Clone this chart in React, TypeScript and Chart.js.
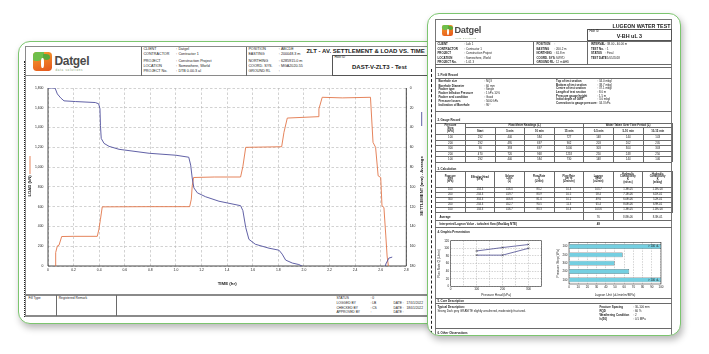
import React, { useEffect, useRef } from "react";
import { Chart, registerables } from "chart.js";
Chart.register(...registerables);

const FONT = "'Liberation Sans', Arial, Helvetica, sans-serif";
const BLUE = "#4f4f9c";
const ORANGE = "#e2764a";
const GREEN = "#7cc56f";

// ---------- ZLT chart data ----------
const settleTimeHr = [0, 0.055, 0.073, 0.099, 0.125, 0.216, 0.37, 0.396, 0.406, 0.41, 0.416, 0.438, 0.477, 0.555, 0.79, 1.0, 1.1, 1.115, 1.127, 1.14, 1.167, 1.232, 1.336, 1.505, 1.523, 1.545, 1.57, 1.62, 1.727, 1.805, 1.83, 1.857, 1.909, 1.96, 2.0, 2.2, 2.5, 2.62, 2.64, 2.664, 2.69];
const settleMm = [0, 0, 6, 10, 13, 13.7, 14.7, 16, 21, 38, 51, 56, 59, 62, 66, 68, 70, 78, 91, 101, 106, 110, 114.5, 119, 124, 141, 153, 158, 162, 164, 168, 174, 177, 178.5, 181, 186, 190, 190, 178, 172, 171];
const loadTimeHr = [0.055, 0.06, 0.073, 0.086, 0.107, 0.2, 0.385, 0.398, 0.41, 0.424, 0.8, 1.107, 1.12, 1.127, 1.138, 1.3, 1.505, 1.523, 1.545, 1.826, 1.844, 1.87, 2.11, 2.117, 2.143, 2.3, 2.52, 2.54, 2.56, 2.58, 2.6, 2.61, 2.625, 2.64, 2.65, 2.66];
const loadKn = [0, 136, 203, 210, 298, 300, 300, 372, 473, 598, 600, 600, 676, 810, 895, 900, 900, 1007, 1200, 1206, 1352, 1496, 1510, 1588, 1706, 1700, 1706, 1250, 1200, 912, 895, 608, 592, 304, 101, 0];

// ---------- Lugeon data ----------
const headLoading = [100, 200, 300];
const flowLoading = [82, 82, 100];
const headUnloading = [300, 200, 100];
const flowUnloading = [110, 102, 93];
const barStepLabels = ["100", "200", "300", "200", "100"];
const lugeonBarValues = [100, 58.4, 49.6, 65.4, 100];

const gaugeSteps = ["100", "200", "300", "200", "100"];
const gaugeStart = ["292", "292", "90", "470", "292"];
const gauge5 = ["440", "495", "393", "720", "440"];
const gauge10 = ["584", "697", "697", "968", "584"];
const gauge15 = ["727", "902", "1000", "1218", "730"];
const gaugeW5 = ["148", "203", "303", "250", "148"];
const gaugeW10 = ["144", "202", "304", "248", "144"];
const gaugeW15 = ["143", "205", "303", "250", "146"];

const calcHead = ["134.3", "234.3", "334.3", "234.3", "134.3"];
const calcVolume = ["416.0", "419.7", "406.8", "452.7", "416.7"];
const calcFlow = ["83.2", "83.9", "81.4", "90.5", "83.3"];
const calcFlowPerM = ["10.4", "10.5", "10.2", "11.3", "10.4"];
const calcLugeon = ["103.7", "58.4", "49.6", "65.4", "103.6"];
const calcKsec = ["1.3E-05", "7.1E-06", "6.0E-06", "8.0E-06", "1.3E-05"];
const calcKday = ["1.1E+00", "6.1E-01", "5.2E-01", "6.9E-01", "1.1E+00"];

// ---------- helpers ----------
const T = ({ x, y, s = 3.6, b = false, a = "l", c = "#1a1a1a", ls, lh = 1, children }: any) => (
  <div style={{ position: "absolute", left: x, top: y, fontSize: s, fontWeight: b ? 700 : 400, color: c, lineHeight: lh, whiteSpace: "pre", fontFamily: FONT, letterSpacing: ls, textAlign: a === "c" ? "center" : a === "r" ? "right" : "left", transform: `translate(${a === "l" ? "0" : a === "c" ? "-50%" : "-100%"}, -50%)` }}>{children}</div>
);
const H = ({ x1, x2, y, w = 0.7, c = "#6a6a6a" }: any) => (
  <div style={{ position: "absolute", left: x1, top: y - w / 2, width: x2 - x1, height: w, background: c }} />
);
const V = ({ x, y1, y2, w = 0.7, c = "#6a6a6a" }: any) => (
  <div style={{ position: "absolute", left: x - w / 2, top: y1, width: w, height: y2 - y1, background: c }} />
);

function Card({ x, y, w, h, children }: any) {
  const bw = 1.6;
  return (
    <div style={{ position: "absolute", left: x, top: y, width: w, height: h, boxSizing: "border-box", border: `${bw}px solid ${GREEN}`, borderRadius: 12, background: "#fff", boxShadow: "2px 4px 7px rgba(0,0,0,0.28)", overflow: "hidden" }}>
      <div style={{ position: "absolute", left: -x - bw, top: -y - bw, width: 709, height: 354 }}>{children}</div>
    </div>
  );
}

function Logo({ x, y, s, tx, ty, fs, sub }: any) {
  return (
    <>
      <div style={{ position: "absolute", left: x, top: y, width: s, height: s, borderRadius: s * 0.2, background: "linear-gradient(160deg,#f6a02c,#e5561d)", overflow: "hidden" }}>
        <div style={{ position: "absolute", left: -s * 0.05, top: -s * 0.1, width: s * 0.62, height: s * 0.55, background: "#6fbf4b", borderRadius: "0 0 55% 35%" }} />
        <div style={{ position: "absolute", left: s * 0.5, top: s * 0.08, width: s * 0.42, height: s * 0.32, background: "#5aa83b", borderRadius: "10% 60% 50% 50%" }} />
        <div style={{ position: "absolute", left: s * 0.4, top: s * 0.3, width: s * 0.16, height: s * 0.55, background: "#fff", borderRadius: "40%" }} />
      </div>
      <T x={tx} y={ty} s={fs} b c="#4a4a4a" ls={-fs * 0.025}>Datgel</T>
      <T x={tx + 1} y={ty + fs * 0.72} s={fs * 0.24} c="#7a9a6a" ls={fs * 0.06}>{sub}</T>
    </>
  );
}

function ChartBox({ x, y, w, h, make }: any) {
  const ref = useRef<HTMLCanvasElement>(null);
  useEffect(() => {
    const chart = new Chart(ref.current as HTMLCanvasElement, make());
    return () => chart.destroy();
  }, []);
  return <canvas ref={ref} width={w} height={h} style={{ position: "absolute", left: x, top: y, width: w, height: h }} />;
}

// ---------- plugins ----------
const frameOnly = {
  id: "frameOnly",
  beforeDatasetsDraw(chart: any) {
    const { ctx, chartArea: a } = chart;
    ctx.save();
    ctx.setLineDash([]);
    ctx.strokeStyle = "#333";
    ctx.lineWidth = 0.6;
    ctx.strokeRect(a.left, a.top, a.right - a.left, a.bottom - a.top);
    ctx.restore();
  },
};

function vTitle(ctx: any, cx: number, cy: number, text: string, font: string) {
  ctx.save();
  ctx.translate(cx, cy);
  ctx.rotate(-Math.PI / 2);
  ctx.font = font;
  ctx.fillStyle = "#222";
  ctx.textAlign = "center";
  ctx.textBaseline = "middle";
  ctx.fillText(text, 0, 0);
  ctx.restore();
}

const zltDecor = {
  id: "zltDecor",
  beforeDatasetsDraw(chart: any) {
    const { ctx, chartArea: a } = chart;
    ctx.save();
    ctx.setLineDash([]);
    ctx.strokeStyle = "#333";
    ctx.lineWidth = 0.9;
    ctx.beginPath();
    ctx.moveTo(a.left, a.top);
    ctx.lineTo(a.left, a.bottom);
    ctx.lineTo(a.right, a.bottom);
    ctx.lineTo(a.right, a.top);
    ctx.stroke();
    const font = `bold 4.2px ${FONT}`;
    vTitle(ctx, 5, 109, "LOAD (kN)", font);
    ctx.strokeStyle = ORANGE;
    ctx.lineWidth = 0.9;
    ctx.beginPath();
    ctx.moveTo(5, 79);
    ctx.lineTo(5, 97);
    ctx.stroke();
    vTitle(ctx, 396.7, 109, "SETTLEMENT (mm) - Average", font);
    ctx.strokeStyle = BLUE;
    ctx.beginPath();
    ctx.moveTo(396.7, 35);
    ctx.lineTo(396.7, 49);
    ctx.stroke();
    ctx.restore();
  },
};

const barLabels = {
  id: "barLabels",
  afterDatasetsDraw(chart: any) {
    const { ctx } = chart;
    const meta = chart.getDatasetMeta(0);
    ctx.save();
    ctx.font = `2.8px ${FONT}`;
    ctx.fillStyle = "#222";
    ctx.textAlign = "right";
    ctx.textBaseline = "middle";
    meta.data.forEach((el: any, i: number) => {
      if (lugeonBarValues[i] >= 100) ctx.fillText("> 100 uL", el.x - 2, el.y);
    });
    ctx.restore();
  },
};

// ---------- configs ----------
function mainConfig(): any {
  const tickFont = { family: FONT, size: 3.4 };
  const grid = { color: "#b3b3b3", lineWidth: 0.6, drawTicks: false };
  return {
    type: "line",
    data: {
      datasets: [
        { data: settleTimeHr.map((t, i) => ({ x: t, y: settleMm[i] })), yAxisID: "ySettle", borderColor: BLUE, borderWidth: 0.9, pointRadius: 0, fill: false },
        { data: loadTimeHr.map((t, i) => ({ x: t, y: loadKn[i] })), yAxisID: "yLoad", borderColor: ORANGE, borderWidth: 0.9, pointRadius: 0, fill: false },
      ],
    },
    options: {
      animation: false, responsive: false, maintainAspectRatio: false, events: [],
      layout: { padding: { top: 11, left: 0, right: 0, bottom: 0 } },
      plugins: { legend: { display: false }, tooltip: { enabled: false } },
      scales: {
        x: {
          type: "linear", min: 0, max: 2.8,
          ticks: { stepSize: 0.2, font: tickFont, color: "#222", padding: 2.5, maxRotation: 0, autoSkip: false, callback: (v: any) => (v === 0 ? "0" : Number(v).toFixed(1)) },
          grid, border: { display: false, dash: [2.5, 2] },
          title: { display: true, text: "TIME (hr)", font: { family: FONT, size: 4.4, weight: "bold" }, color: "#222", padding: { top: 0, bottom: 7.4 } },
          afterFit: (s: any) => { s.height = 28; },
        },
        yLoad: {
          position: "left", min: 0, max: 1800,
          ticks: { stepSize: 200, font: tickFont, color: "#222", padding: 4.5, callback: (v: any) => Number(v).toLocaleString("en-US") },
          grid, border: { display: false, dash: [2.5, 2] },
          afterFit: (s: any) => { s.width = 23; },
        },
        ySettle: {
          position: "right", reverse: true, min: 0, max: 180,
          ticks: { stepSize: 20, font: tickFont, color: "#222", padding: 3.4 },
          grid: { display: false, drawTicks: false }, border: { display: false },
          afterFit: (s: any) => { s.width = 19.7; },
        },
      },
    },
    plugins: [zltDecor],
  };
}

function lugeonLineConfig(): any {
  const f = { family: FONT, size: 3 };
  const grid = { color: "#a8a8a8", lineWidth: 0.5, drawTicks: false };
  const ds = { borderColor: "#4d4d90", borderWidth: 0.8, pointRadius: 1.3, pointStyle: "crossRot", pointBorderColor: "#333", pointBorderWidth: 0.5, fill: false };
  return {
    type: "line",
    data: {
      datasets: [
        { ...ds, data: headLoading.map((h, i) => ({ x: h, y: flowLoading[i] })) },
        { ...ds, data: headUnloading.map((h, i) => ({ x: h, y: flowUnloading[i] })) },
      ],
    },
    options: {
      animation: false, responsive: false, maintainAspectRatio: false, events: [],
      layout: { padding: { top: 4.7, right: 3, left: 0, bottom: 0 } },
      plugins: { legend: { display: false }, tooltip: { enabled: false } },
      scales: {
        x: {
          type: "linear", min: 0, max: 350,
          ticks: { stepSize: 50, font: f, color: "#222", padding: 1.5, autoSkip: false, maxRotation: 0, callback: (v: any) => (v % 100 === 0 ? String(v) : "") },
          grid, border: { display: false, dash: [1.5, 1.2] },
          title: { display: true, text: "Pressure Head (kPa)", font: { family: FONT, size: 3.2 }, color: "#222", padding: { top: 0, bottom: 2.2 } },
          afterFit: (s: any) => { s.height = 12.7; },
        },
        y: {
          min: 0, max: 120,
          ticks: { stepSize: 20, font: f, color: "#222", padding: 1.5 },
          grid, border: { display: false, dash: [1.5, 1.2] },
          title: { display: true, text: "Flow Rate Q (L/min)", font: { family: FONT, size: 3.2 }, color: "#222", padding: { top: 1.6, bottom: 0 } },
          afterFit: (s: any) => { s.width = 14.7; },
        },
      },
    },
    plugins: [frameOnly],
  };
}

function lugeonBarConfig(): any {
  const f = { family: FONT, size: 3 };
  return {
    type: "bar",
    data: { labels: barStepLabels, datasets: [{ data: lugeonBarValues, backgroundColor: "#74cfe1", borderColor: "#333", borderWidth: 0.5, barPercentage: 0.68, categoryPercentage: 0.85 }] },
    options: {
      indexAxis: "y",
      animation: false, responsive: false, maintainAspectRatio: false, events: [],
      layout: { padding: { top: 5.3, right: 3.3, left: 0, bottom: 0 } },
      plugins: { legend: { display: false }, tooltip: { enabled: false } },
      scales: {
        x: {
          min: 0, max: 100,
          ticks: { stepSize: 10, font: f, color: "#222", padding: 1.5, autoSkip: false, maxRotation: 0 },
          grid: { color: "#a8a8a8", lineWidth: 0.5, drawTicks: false }, border: { display: false, dash: [1.5, 1.2] },
          title: { display: true, text: "Lugeon Unit (uL/min/m/MPa)", font: { family: FONT, size: 3.2 }, color: "#222", padding: { top: 0, bottom: 2.2 } },
          afterFit: (s: any) => { s.height = 15; },
        },
        y: {
          ticks: { font: f, color: "#222", padding: 1.5 },
          grid: { display: false, drawTicks: false }, border: { display: false },
          title: { display: true, text: "Pressure Step (kPa)", font: { family: FONT, size: 3.2 }, color: "#222", padding: { top: 1.2, bottom: 0 } },
          afterFit: (s: any) => { s.width = 14; },
        },
      },
    },
    plugins: [frameOnly, barLabels],
  };
}

// ---------- layout pieces ----------
function LeftPage() {
  const lab = 3.7;
  const rows = [51, 56, 62.3, 67.3, 72.3];
  const clientL = ["CLIENT", "CONTRACTOR", "PROJECT", "LOCATION", "PROJECT No."];
  const clientV = ["Datgel", "Contractor 1", "Construction Project", "Somewhere, World", "DTB 0.00.3 al"];
  const posL = ["POSITION", "EASTING", "NORTHING", "COORD. SYS.", "GROUND RL"];
  const posV = ["ABCDE", "200048.3 m", "6285915.0 m", "MGA2020-55", ""];
  return (
    <>
      <div style={{ position: "absolute", left: 24.5, top: 62, height: 256, borderLeft: "1px dotted #222" }} />
      <H x1={26} x2={460} y={47.3} w={1.4} c="#8a8a8a" />
      <V x={26} y1={47} y2={317} w={1} c="#8a8a8a" />
      <H x1={26} x2={460} y={76.5} w={1} c="#8a8a8a" />
      <V x={141.7} y1={47.3} y2={76.5} />
      <V x={246.7} y1={47.3} y2={76.5} />
      <Logo x={34} y={53} s={18.5} tx={55} ty={61.5} fs={12} sub="data solutions" />
      {clientL.map((t, i) => <T key={"cl" + i} x={144} y={rows[i]} s={lab}>{t}</T>)}
      {clientL.map((t, i) => <T key={"cc" + i} x={176.7} y={rows[i]} s={lab}>:</T>)}
      {clientV.map((t, i) => <T key={"cv" + i} x={179} y={rows[i]} s={lab}>{t}</T>)}
      {posL.map((t, i) => <T key={"pl" + i} x={249} y={rows[i]} s={lab}>{t}</T>)}
      {posL.map((t, i) => <T key={"pc" + i} x={279.3} y={rows[i]} s={lab}>:</T>)}
      {posV.map((t, i) => <T key={"pv" + i} x={281.5} y={rows[i]} s={lab}>{t}</T>)}
      <T x={307} y={51.7} s={6} b>ZLT - AV. SETTLEMENT &amp; LOAD VS. TIME</T>
      <div style={{ position: "absolute", left: 332.7, top: 55.7, width: 130, height: 20.8, boxSizing: "border-box", border: "0.8px solid #555" }} />
      <T x={335} y={58.7} s={3.2}>Hole ID</T>
      <T x={380} y={67.3} s={6} b a="c">DAST-V-ZLT3 - Test</T>
      <ChartBox x={26} y={78} w={401} h={217} make={mainConfig} />
      <H x1={26} x2={460} y={295.7} w={1.6} c="#8a8a8a" />
      <H x1={26} x2={460} y={316.7} w={1.6} c="#8a8a8a" />
      <V x={56.7} y1={295.7} y2={316.7} />
      <V x={116.7} y1={295.7} y2={316.7} />
      <T x={29} y={299.7} s={3.3}>Fill Type</T>
      <T x={59.3} y={299.7} s={3.3}>Registered Remark</T>
      {["STATUS", "LOGGED BY", "CHECKED BY", "APPROVED BY"].map((t, i) => <T key={"st" + i} x={337} y={[299.3, 304.7, 309.3, 314][i]} s={3.3}>{t}</T>)}
      {[": 0", ": LB", ": CS", ":"].map((t, i) => <T key={"sv" + i} x={371} y={[299.3, 304.7, 309.3, 314][i]} s={3.3}>{t}</T>)}
      {["DATE :   17/01/2022", "DATE :   18/01/2022", "DATE :"].map((t, i) => <T key={"dt" + i} x={394} y={[304.7, 309.3, 314][i]} s={3.3}>{t}</T>)}
    </>
  );
}

function RightPage() {
  const s = 2.9;
  const hr = [45, 49.3, 54, 58.5, 62.5];
  const gc = [436, 466, 495.6, 525.2, 554.8, 584.4, 614, 643.6, 673];
  const cc = [0, 1, 2, 3, 4, 5, 6, 7, 8].map((i) => 436 + i * 29.625);
  const gCols = [gaugeSteps, gaugeStart, gauge5, gauge10, gauge15, gaugeW5, gaugeW10, gaugeW15];
  const cCols = [gaugeSteps, calcHead, calcVolume, calcFlow, calcFlowPerM, calcLugeon, calcKsec, calcKday];
  const gRowsY = [135, 140.5, 146, 151.5, 157, 162.5];
  const cRowsY = [188.3, 193.3, 198.3, 203.3, 208.3, 213.3];
  const calcHeads = ["Pressure\nStep\n(kPa)", "Effective Head\n(kPa)", "Volume\nLoss\n(L)", "Flow Rate\nQ\n(L/min)", "Flow Rate\nper m\n(L/min/m)", "Lugeon\nValue\n(uL/min)", "Hydraulic\nConductivity\nK\n(m/sec)", "Hydraulic\nConductivity\nK\n(m/day)"];
  const fieldY = [82, 86.3, 90, 94, 98, 101.7, 106];
  const fieldRY = [81.7, 85.3, 88.7, 93, 96.7, 99.9, 103.7];
  return (
    <>
      <div style={{ position: "absolute", left: 432, top: 70, height: 280, borderLeft: "1px dashed #222" }} />
      <div style={{ position: "absolute", left: 436, top: 20, width: 237, height: 340, boxSizing: "border-box", border: "0.9px solid #777" }} />
      <Logo x={443} y={26} s={11} tx={455} ty={31.5} fs={9.2} sub="data solutions" />
      <T x={671} y={27.3} s={5.3} b a="r">LUGEON WATER TEST</T>
      <div style={{ position: "absolute", left: 588, top: 29.3, width: 85, height: 12.4, boxSizing: "border-box", border: "0.8px solid #555" }} />
      <T x={590} y={31.7} s={2.8}>Hole ID</T>
      <T x={630} y={37.7} s={5.4} b a="c">V-BH uL 3</T>
      <H x1={436} x2={673} y={41.7} />
      <V x={534} y1={41.7} y2={64.5} />
      <V x={588} y1={41.7} y2={64.5} />
      {["CLIENT", "CONTRACTOR", "PROJECT", "LOCATION", "PROJECT No."].map((t, i) => <T key={"a" + i} x={438} y={hr[i]} s={s} b>{t}</T>)}
      {["Lab 1", "Contractor 1", "Construction Project", "Somewhere, World", "1.01 3"].map((t, i) => <T key={"b" + i} x={465} y={hr[i]} s={s}>{": " + t}</T>)}
      {["POSITION", "EASTING", "NORTHING", "COORD. SYS.", "GROUND RL"].map((t, i) => <T key={"c" + i} x={537} y={hr[i]} s={s} b>{t}</T>)}
      {["", "200.2 m", "61.8 m", "SWYD", "12 m AHD"].map((t, i) => <T key={"d" + i} x={555} y={hr[i]} s={s}>{": " + t}</T>)}
      {["INTERVAL", "TEST No.", "STATUS", "TEST DATE"].map((t, i) => <T key={"e" + i} x={591.5} y={hr[i]} s={s} b>{t}</T>)}
      {["38.00 - 40.00 m", "1", "Final", "1/05/2018"].map((t, i) => <T key={"f" + i} x={606} y={hr[i]} s={s}>{": " + t}</T>)}
      <H x1={436} x2={673} y={64.5} />
      <H x1={436} x2={673} y={68.3} />
      <T x={438} y={75.5} s={s} b>1. Field Record</T>
      <H x1={436} x2={673} y={79} />
      {["Borehole size", "Borehole Diameter", "Packer type", "Packer Inflation Pressure", "Packer seal condition", "Pressure losses", "Inclination of Borehole"].map((t, i) => <T key={"g" + i} x={439} y={fieldY[i]} s={s} b>{t}</T>)}
      {["NQ3", "60 mm", "Single", "1 kPa 10%", "Good", "5000 kPa", "90°"].map((t, i) => <T key={"h" + i} x={485} y={fieldY[i]} s={s}>{": " + t}</T>)}
      {["Top of test section", "Bottom of test section", "Centre of test section", "Length of test section", "Pressure gauge height", "Initial depth of GWT", "Correction to gauge pressure"].map((t, i) => <T key={"i" + i} x={556.7} y={fieldRY[i]} s={s} b>{t}</T>)}
      {["34.0 mbgl", "38.7 mbgl", "37.1 mbgl", "8.0 m", "1.5 m", "3.0 mbgl", "34.3 kPa"].map((t, i) => <T key={"j" + i} x={598} y={fieldRY[i]} s={s}>{": " + t}</T>)}
      <H x1={436} x2={673} y={112} />
      <T x={438} y={120.3} s={s} b>2. Gauge Record</T>
      <H x1={436} x2={673} y={123.5} />
      <H x1={466} x2={673} y={128} />
      {gRowsY.map((y, i) => <H key={"gr" + i} x1={436} x2={673} y={y} />)}
      {gc.map((x, i) => <V key={"gv" + i} x={x} y1={i === 0 || i === 1 || i === 5 || i === 8 ? 123.5 : 128} y2={162.5} />)}
      <T x={451} y={129.3} s={2.8} b a="c" lh={1.1}>{"Pressure\nStep\n(kPa)"}</T>
      <T x={525.2} y={125.8} s={2.8} b a="c">Flow Meter Readings (L)</T>
      <T x={628.7} y={125.8} s={2.8} b a="c">Water Taken Over Time Period (L)</T>
      {["Start", "5 min", "10 min", "15 min", "0-5 min", "5-10 min", "10-15 min"].map((t, i) => <T key={"gh" + i} x={(gc[i + 1] + gc[i + 2]) / 2} y={131.5} s={2.8} b a="c">{t}</T>)}
      {gCols.map((col, ci) => col.map((v, ri) => <T key={"gd" + ci + "_" + ri} x={(gc[ci] + gc[ci + 1]) / 2} y={gRowsY[ri] + 2.75} s={2.8} a="c">{v}</T>))}
      <T x={438} y={169.3} s={s} b>3. Calculation</T>
      <H x1={436} x2={673} y={172} />
      {cRowsY.map((y, i) => <H key={"cr" + i} x1={436} x2={673} y={y} />)}
      {cc.map((x, i) => <V key={"cv" + i} x={x} y1={172} y2={213.3} />)}
      {calcHeads.map((t, i) => <T key={"ch" + i} x={(cc[i] + cc[i + 1]) / 2} y={180.2} s={2.6} b a="c" lh={1.1}>{t}</T>)}
      {cCols.map((col, ci) => col.map((v, ri) => <T key={"cd" + ci + "_" + ri} x={(cc[ci] + cc[ci + 1]) / 2} y={cRowsY[ri] + 2.5} s={2.7} a="c">{v}</T>))}
      <T x={440} y={217.3} s={s} b>Average</T>
      <T x={(cc[5] + cc[6]) / 2} y={217.3} s={2.8} a="c">76</T>
      <T x={(cc[6] + cc[7]) / 2} y={217.3} s={2.8} a="c">8.8E-06</T>
      <T x={(cc[7] + cc[8]) / 2} y={217.3} s={2.8} a="c">8.3E-01</T>
      <V x={cc[5]} y1={213.3} y2={221} />
      <V x={cc[6]} y1={213.3} y2={221} />
      <V x={cc[7]} y1={213.3} y2={221} />
      <H x1={436} x2={673} y={221} />
      <T x={440} y={224.5} s={s} b>Interpreted Lugeon Value - turbulent flow (Max/Avg NTE)</T>
      <T x={(cc[5] + cc[6]) / 2} y={224.5} s={s} b a="c">49</T>
      <H x1={436} x2={673} y={228} />
      <T x={438} y={232.4} s={s} b>4. Graphic Presentation</T>
      <ChartBox x={437} y={237} w={110} h={63} make={lugeonLineConfig} />
      <ChartBox x={556} y={238} w={110} h={62} make={lugeonBarConfig} />
      <H x1={436} x2={673} y={298.5} />
      <T x={438} y={301.2} s={s} b>5. Core Description</T>
      <H x1={436} x2={673} y={304.3} />
      <T x={438} y={307.7} s={s} b>Typical Description:</T>
      <T x={438} y={311.2} s={s}>Strong Dark grey GRANITE slightly weathered, moderately fractured.</T>
      {["Fracture Spacing", "RQD", "Weathering Condition", "Is(50)"].map((t, i) => <T key={"k" + i} x={600} y={[307.7, 311.7, 316, 320][i]} s={s} b>{t}</T>)}
      {["30-100 mm", "60 %", "2", "0.5 MPa"].map((t, i) => <T key={"l" + i} x={634} y={[307.7, 311.7, 316, 320][i]} s={s}>{": " + t}</T>)}
      <H x1={436} x2={673} y={329.3} />
      <T x={438} y={333.4} s={s} b>6. Other Observations</T>
    </>
  );
}

export default function App() {
  return (
    <div style={{ position: "fixed", left: 0, top: 0, width: 709, height: 354, overflow: "hidden", background: "#fff", fontFamily: FONT }}>
      <Card x={18} y={41} w={432} h={283}>
        <LeftPage />
      </Card>
      <Card x={427} y={13} w={254} h={323}>
        <RightPage />
      </Card>
    </div>
  );
}
